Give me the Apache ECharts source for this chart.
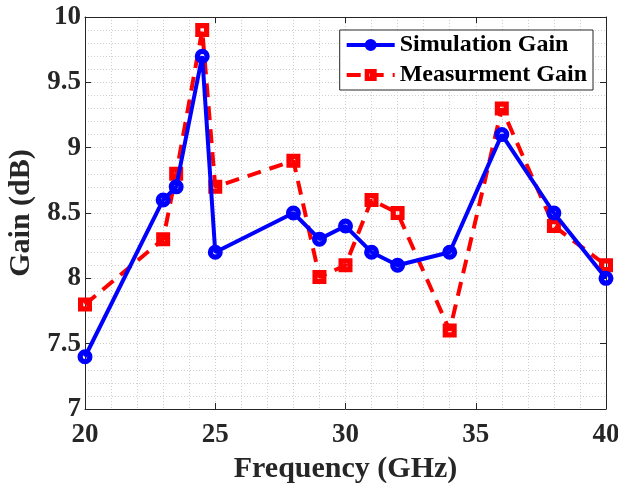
<!DOCTYPE html>
<html>
<head>
<meta charset="utf-8">
<script src="https://cdn.jsdelivr.net/npm/echarts@6/dist/echarts.min.js"></script>
<style>html,body{margin:0;padding:0;background:#fff;}#c{width:618px;height:483px;}</style>
</head>
<body>
<div id="c"></div>
<script>
const freq = [20, 23, 23.5, 24.5, 25, 28, 29, 30, 31, 32, 34, 36, 38, 40];
const simGain = [7.4, 8.6, 8.7, 9.7, 8.2, 8.5, 8.3, 8.4, 8.2, 8.1, 8.2, 9.1, 8.5, 8.0];
const measGain = [7.8, 8.3, 8.8, 9.9, 8.7, 8.9, 8.01, 8.1, 8.6, 8.5, 7.6, 9.3, 8.4, 8.1];
const xTicks = [20, 25, 30, 35, 40];
const yTicks = [7, 7.5, 8, 8.5, 9, 9.5, 10];

const FONT = '"Liberation Serif", "Times New Roman", serif';
const TXT = '#262626';
const ringPath = 'path://M0,-10 A10,10 0 1,1 0,10 A10,10 0 1,1 0,-10 Z M0,-3 A3,3 0 1,0 0,3 A3,3 0 1,0 0,-3 Z';
const boxPath = 'path://M-10,-10 L10,-10 L10,10 L-10,10 Z M-2.5,-2.5 L-2.5,2.5 L2.5,2.5 L2.5,-2.5 Z';
const chart = echarts.init(document.getElementById('c'));
const gridLine = {show: true, lineStyle: {color: '#cfcfcf', type: [1, 2], width: 1}};
chart.setOption({
  animation: false,
  backgroundColor: '#fff',
  grid: {left: 85, right: 12, top: 17, bottom: 74, containLabel: false, outerBoundsMode: 'none'},
  legend: {
    top: 30, right: 25,
    orient: 'vertical',
    backgroundColor: '#fff',
    borderColor: TXT, borderWidth: 1,
    padding: [3, 6, 3, 5],
    itemGap: 6,
    itemWidth: 48, itemHeight: 15,
    textStyle: {fontFamily: FONT, fontWeight: 'bold', fontSize: 24, color: '#000'},
    data: [
      {name: 'Simulation Gain', lineStyle: {width: 4}},
      {name: 'Measurment Gain', lineStyle: {width: 4, type: [14, 9]}}
    ]
  },
  xAxis: [{
    type: 'value', min: 20, max: 40, interval: 5,
    name: 'Frequency (GHz)', nameLocation: 'middle', nameGap: 43,
    nameTextStyle: {fontFamily: FONT, fontWeight: 'bold', fontSize: 30, color: TXT},
    axisLine: {show: true, onZero: false, lineStyle: {color: TXT, width: 1}},
    axisTick: {show: true, inside: true, length: 6, lineStyle: {color: TXT}},
    axisLabel: {fontFamily: FONT, fontWeight: 'bold', fontSize: 27, color: TXT, margin: 13,
      formatter: v => xTicks.includes(v) ? String(v) : ''},
    splitLine: gridLine,
    minorTick: {show: false, splitNumber: 5},
    minorSplitLine: gridLine
  }, {
    type: 'value', min: 20, max: 40, interval: 5, position: 'top',
    axisLine: {show: true, onZero: false, lineStyle: {color: TXT, width: 1}},
    axisTick: {show: true, inside: true, length: 6, lineStyle: {color: TXT}},
    axisLabel: {show: false}, splitLine: {show: false}
  }],
  yAxis: [{
    type: 'value', min: 7, max: 10, interval: 0.5,
    name: 'Gain (dB)', nameLocation: 'middle', nameGap: 48,
    nameTextStyle: {fontFamily: FONT, fontWeight: 'bold', fontSize: 30, color: TXT},
    axisLine: {show: true, onZero: false, lineStyle: {color: TXT, width: 1}},
    axisTick: {show: true, inside: true, length: 6, lineStyle: {color: TXT}},
    axisLabel: {fontFamily: FONT, fontWeight: 'bold', fontSize: 27, color: TXT, margin: 4,
      formatter: v => yTicks.includes(v) ? String(v) : ''},
    splitLine: gridLine,
    minorTick: {show: false, splitNumber: 5},
    minorSplitLine: gridLine
  }, {
    type: 'value', min: 7, max: 10, interval: 0.5, position: 'right',
    axisLine: {show: true, onZero: false, lineStyle: {color: TXT, width: 1}},
    axisTick: {show: true, inside: true, length: 6, lineStyle: {color: TXT}},
    axisLabel: {show: false}, splitLine: {show: false}
  }],
  series: [{
    name: 'Simulation Gain', type: 'line',
    data: freq.map((f, i) => [f, simGain[i]]),
    symbol: ringPath, symbolSize: 15, symbolKeepAspect: true,
    lineStyle: {color: '#0000ff', width: 4},
    itemStyle: {color: '#0000ff', borderWidth: 0},
    z: 3
  }, {
    name: 'Measurment Gain', type: 'line',
    data: freq.map((f, i) => [f, measGain[i]]),
    symbol: boxPath, symbolSize: 14, symbolKeepAspect: true,
    lineStyle: {color: '#ff0000', width: 4, type: [14, 9]},
    itemStyle: {color: '#ff0000', borderWidth: 0},
    z: 2
  }]
});
</script>
</body>
</html>
